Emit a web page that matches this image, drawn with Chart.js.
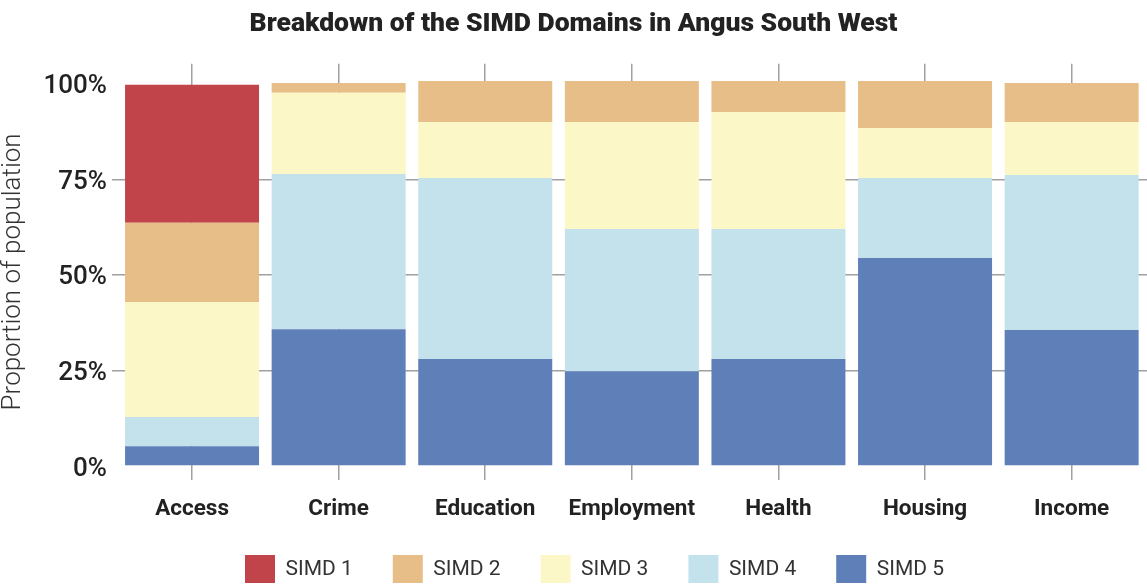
<!DOCTYPE html>
<html>
<head>
<meta charset="utf-8">
<script src="https://cdn.jsdelivr.net/npm/chart.js@4.4.1/dist/chart.umd.min.js"></script>
<style>
  html, body { margin: 0; padding: 0; background: #ffffff; }
  #wrap { width: 1147px; height: 588px; position: relative; }
</style>
</head>
<body>
<div id="wrap"><canvas id="c"></canvas></div>
<script>
const categories = ["Access", "Crime", "Education", "Employment", "Health", "Housing", "Income"];
const simd1 = [36.1, 0, 0, 0, 0, 0, 0];
const simd2 = [20.7, 2.6, 10.7, 10.7, 8.1, 12.3, 10.2];
const simd3 = [30.1, 21.2, 14.7, 28.0, 30.6, 13.1, 13.9];
const simd4 = [7.6, 40.6, 47.3, 37.2, 34.0, 20.9, 40.5];
const simd5 = [5.2, 35.8, 28.0, 24.8, 28.0, 54.4, 35.6];
const yTicks = [0, 25, 50, 75, 100];
const yTickLabels = ["0%", "25%", "50%", "75%", "100%"];

const colors = {
  "SIMD 1": "#C1444A",
  "SIMD 2": "#E8BE88",
  "SIMD 3": "#FBF7C6",
  "SIMD 4": "#C4E2EB",
  "SIMD 5": "#5F7FB9"
};

function toPoints(arr) { return arr.map((v, i) => ({ x: i, y: v })); }

const series = [
  ["SIMD 5", simd5],
  ["SIMD 4", simd4],
  ["SIMD 3", simd3],
  ["SIMD 2", simd2],
  ["SIMD 1", simd1]
];

const datasets = series.map(([name, vals]) => ({
  label: name,
  data: toPoints(vals),
  backgroundColor: colors[name],
  borderWidth: 0,
  categoryPercentage: 1.0,
  barPercentage: 0.914
}));

const layoutTweak = {
  id: 'layoutTweak',
  afterInit(chart) {
    const lg = chart.legend;
    if (lg) {
      const origFit = lg.fit;
      lg.fit = function () { origFit.call(this); this.height = 68; };
    }
  },
  afterLayout(chart) {
    const lg = chart.legend;
    if (lg) { lg.left += 21; lg.right += 21; lg.top -= 5; lg.bottom -= 5; }
  }
};

Chart.defaults.font.family = "Roboto, 'Noto Sans', sans-serif";

new Chart(document.getElementById('c'), {
  type: 'bar',
  data: { datasets },
  plugins: [layoutTweak],
  options: {
    responsive: true,
    maintainAspectRatio: false,
    animation: false,
    devicePixelRatio: 1,
    layout: { padding: 0 },
    plugins: {
      title: {
        display: true,
        text: "Breakdown of the SIMD Domains in Angus South West",
        color: "#222222",
        font: { size: 26.5, weight: '900', lineHeight: 1.2 },
        padding: { top: 8, bottom: 24 }
      },
      legend: {
        position: 'bottom',
        reverse: true,
        labels: {
          boxWidth: 30,
          boxHeight: 30,
          padding: 40,
          color: "#333333",
          font: { size: 21, weight: 'normal' }
        }
      },
      tooltip: { enabled: false }
    },
    scales: {
      x: {
        type: 'linear',
        stacked: true,
        min: -0.546,
        max: 6.514,
        offset: false,
        afterFit(scale) { scale.height = 40; },
        afterBuildTicks(scale) { scale.ticks = categories.map((c, i) => ({ value: i })); },
        ticks: {
          callback: (v) => categories[v],
          color: "#222222",
          font: { size: 22.5, weight: 'bold', lineHeight: 1.2 },
          padding: 15.5,
          maxRotation: 0,
          autoSkip: false
        },
        grid: { color: "#A0A0A0", lineWidth: 1.5, drawTicks: false, offset: false },
        border: { display: false }
      },
      y: {
        stacked: true,
        min: -3.66,
        max: 105.2,
        afterFit(scale) { scale.width = 112; },
        afterBuildTicks(scale) { scale.ticks = yTicks.map(v => ({ value: v })); },
        ticks: {
          callback: (v) => yTickLabels[yTicks.indexOf(v)],
          color: "#222222",
          font: { size: 26, weight: '500' },
          padding: 5,
          labelOffset: 3
        },
        grid: {
          color: (ctx) => (ctx.tick && (ctx.tick.value === 25 || ctx.tick.value === 50 || ctx.tick.value === 75)) ? "#A0A0A0" : "rgba(0,0,0,0)",
          lineWidth: 1.5,
          drawTicks: false
        },
        border: { display: false },
        title: {
          display: true,
          text: "Proportion of population",
          color: "#333333",
          font: { size: 26, weight: '300', lineHeight: 1 },
          padding: { top: 0, bottom: 0 }
        }
      }
    }
  }
});
</script>
</body>
</html>
